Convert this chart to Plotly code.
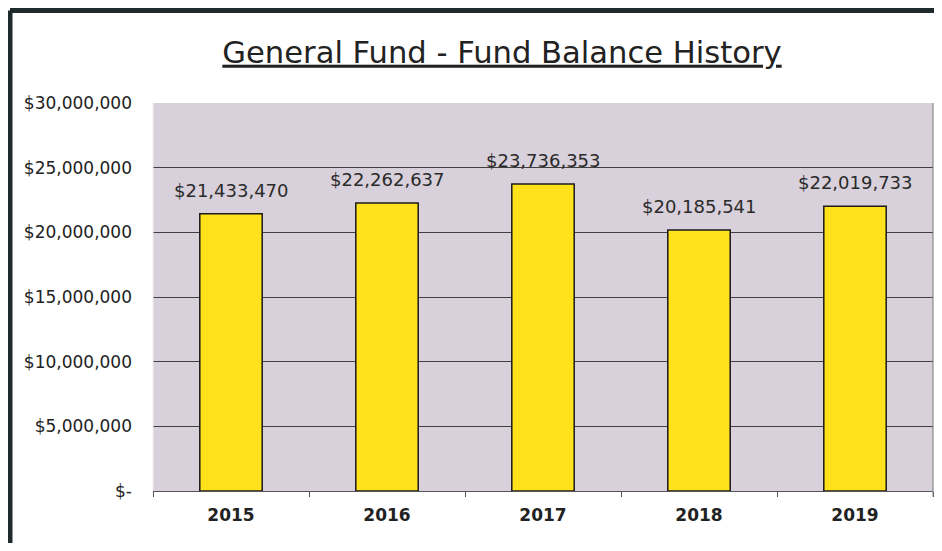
import plotly.graph_objects as go

years = ["2015", "2016", "2017", "2018", "2019"]
balances = [21433470, 22262637, 23736353, 20185541, 22019733]
labels = ["$21,433,470", "$22,262,637", "$23,736,353", "$20,185,541", "$22,019,733"]
y_tickvals = [0, 5000000, 10000000, 15000000, 20000000, 25000000, 30000000]
y_ticktext = ["$-", "$5,000,000", "$10,000,000", "$15,000,000", "$20,000,000", "$25,000,000", "$30,000,000"]

# page body has an 8px margin; figure is sized to fit inside the window
W, H = 926, 535
L, R, T, B = 145, 1, 95, 52
PW, PH = W - L - R, H - T - B

FONT = "DejaVu Sans, Verdana, sans-serif"

fig = go.Figure()
fig.add_trace(go.Bar(
    x=years, y=balances,
    marker=dict(color="#FFE21C", line=dict(color="#1a1a1a", width=1.5)),
    width=0.4,
))

for i, (val, lab) in enumerate(zip(balances, labels)):
    fig.add_annotation(x=i, y=val, text=lab, showarrow=False,
                       yanchor="bottom", yshift=11,
                       font=dict(family=FONT, size=18, color="#2a2a2a"))

fig.update_layout(
    width=W, height=H,
    margin=dict(l=L, r=R, t=T, b=B, autoexpand=False),
    paper_bgcolor="white",
    plot_bgcolor="#d8d0da",
    showlegend=False,
    title=dict(
        text="<u>General Fund - Fund Balance History</u>",
        x=494 / W, xanchor="center", y=1 - 44 / H, yanchor="middle",
        font=dict(family=FONT, size=30.6, color="#222"),
    ),
    xaxis=dict(
        type="category",
        range=[-0.5, len(years) - 0.5],
        automargin=False,
        showgrid=False, showline=True, linecolor="#555", linewidth=1,
        ticks="outside", ticklen=5, tickcolor="#555", tickson="boundaries",
        ticklabelstandoff=9,
        tickfont=dict(family=FONT, size=17, color="#222", weight="bold"),
        tickangle=0,
    ),
    yaxis=dict(
        automargin=False,
        range=[0, 30000000], tickvals=y_tickvals, ticktext=y_ticktext,
        showgrid=True, gridcolor="#3f3f3f", gridwidth=1,
        zeroline=False, showline=False,
        ticklabelstandoff=20,
        tickfont=dict(family=FONT, size=17, color="#222"),
    ),
)

# outer frame (left and top dark border)
fx = -(L - 2) / PW
fy = 1 + (T - 2.5) / PH
fig.add_shape(type="line", xref="paper", yref="paper",
              x0=fx, x1=(W - L + 20) / PW, y0=fy, y1=fy,
              line=dict(color="#1f2a2a", width=5))
fig.add_shape(type="line", xref="paper", yref="paper",
              x0=fx, x1=fx, y0=fy, y1=-(B + 20) / PH,
              line=dict(color="#1f2a2a", width=5))
# light edges of plot area
fig.add_shape(type="line", xref="paper", yref="paper", x0=1, x1=1, y0=-0.015, y1=1,
              line=dict(color="#777", width=1))
fig.add_shape(type="line", xref="paper", yref="paper", x0=0, x1=0, y0=0, y1=1,
              line=dict(color="#eeeeee", width=1))

fig.write_html("out.html")
